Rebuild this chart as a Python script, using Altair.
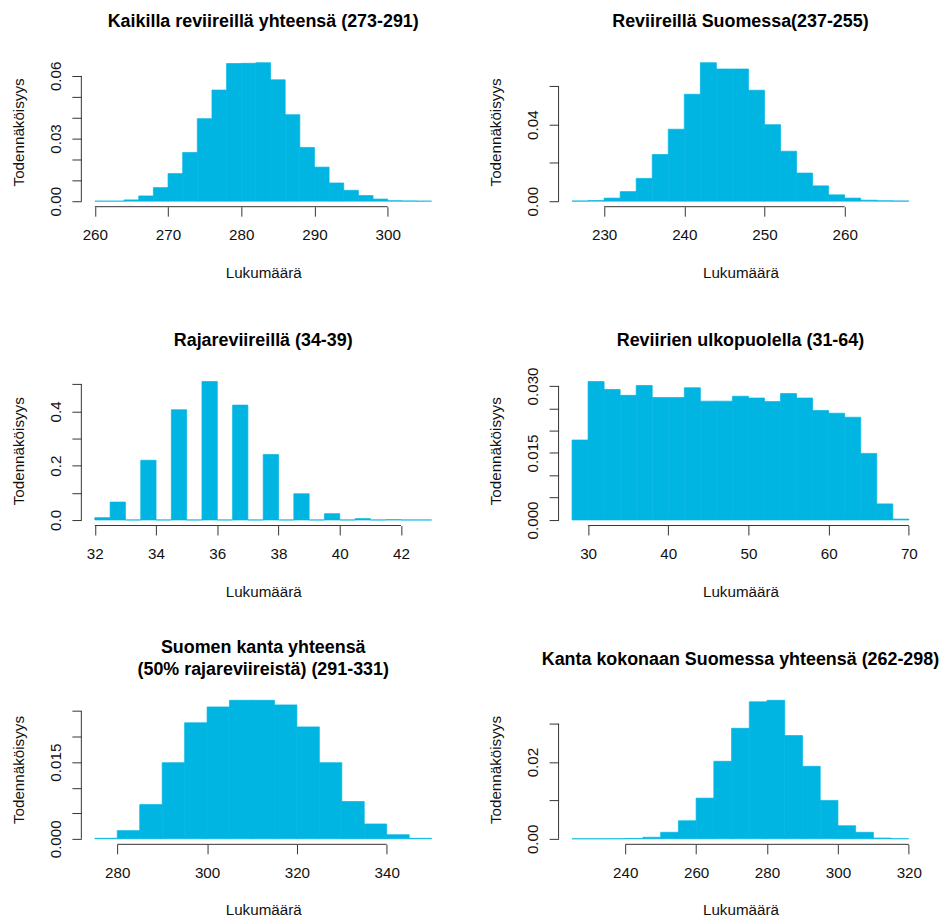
import altair as alt
import pandas as pd

FONT = "Liberation Sans"
FILL = "#00B5E2"
AXC = "#333333"
TXT = "#111111"
W, H = 366, 150.5

# ---------- data (density histograms) ----------
p1_title = "Kaikilla reviireillä yhteensä (273-291)"
p1_breaks = [260, 262, 264, 266, 268, 270, 272, 274, 276, 278, 280, 282, 284, 286, 288,
             290, 292, 294, 296, 298, 300, 302, 304, 306]
p1_dens = [0.0, 0.0, 0.0006, 0.0025, 0.0065, 0.0132, 0.0233, 0.0395, 0.0532, 0.0659, 0.0660,
           0.0663, 0.0581, 0.0414, 0.0257, 0.0163, 0.0087, 0.0052, 0.0027, 0.0010, 0.0002,
           0.0001, 0.0]
p1_xticks = [260, 270, 280, 290, 300]
p1_yticks = [0.0, 0.01, 0.02, 0.03, 0.04, 0.05, 0.06]
p1_ylab = [0.0, 0.03, 0.06]

p2_title = "Reviireillä Suomessa(237-255)"
p2_breaks = [226, 228, 230, 232, 234, 236, 238, 240, 242, 244, 246, 248, 250, 252, 254,
             256, 258, 260, 262, 264, 266, 268]
p2_dens = [0.0001, 0.0003, 0.0016, 0.0050, 0.0119, 0.0244, 0.0376, 0.0559, 0.0724, 0.0691,
           0.0691, 0.0580, 0.0400, 0.0261, 0.0147, 0.0080, 0.0033, 0.0016, 0.0005, 0.0002,
           0.0001]
p2_xticks = [230, 240, 250, 260]
p2_yticks = [0.0, 0.02, 0.04, 0.06]
p2_ylab = [0.0, 0.04]

p3_title = "Rajareviireillä (34-39)"
p3_breaks = [32, 32.5, 33, 33.5, 34, 34.5, 35, 35.5, 36, 36.5, 37, 37.5, 38, 38.5, 39,
             39.5, 40, 40.5, 41, 41.5, 42, 42.5, 43]
p3_dens = [0.0086, 0.066, 0.0, 0.220, 0.0, 0.406, 0.0, 0.510, 0.0, 0.423, 0.0, 0.241, 0.0,
           0.0966, 0.0, 0.0232, 0.0, 0.0050, 0.0, 0.0012, 0.0, 0.0]
p3_xticks = [32, 34, 36, 38, 40, 42]
p3_yticks = [0.0, 0.1, 0.2, 0.3, 0.4, 0.5]
p3_ylab = [0.0, 0.2, 0.4]

p4_title = "Reviirien ulkopuolella (31-64)"
p4_breaks = [28, 30, 32, 34, 36, 38, 40, 42, 44, 46, 48, 50, 52, 54, 56, 58, 60, 62, 64,
             66, 68, 70]
p4_dens = [0.0179, 0.0310, 0.0292, 0.0279, 0.0301, 0.0274, 0.0274, 0.0296, 0.0266, 0.0266,
           0.0277, 0.0273, 0.0265, 0.0283, 0.0273, 0.0245, 0.0239, 0.0230, 0.0149, 0.0036,
           0.0002]
p4_xticks = [30, 40, 50, 60, 70]
p4_yticks = [0.0, 0.005, 0.01, 0.015, 0.02, 0.025, 0.03]
p4_ylab = [0.0, 0.015, 0.03]

p5_title = ["Suomen kanta yhteensä", "(50% rajareviireistä) (291-331)"]
p5_breaks = [275, 280, 285, 290, 295, 300, 305, 310, 315, 320, 325, 330, 335, 340, 345, 350]
p5_dens = [0.0001, 0.0016, 0.0067, 0.0149, 0.0227, 0.0258, 0.0271, 0.0271, 0.0262, 0.0219,
           0.0149, 0.0073, 0.0029, 0.0008, 0.0001]
p5_xticks = [280, 300, 320, 340]
p5_yticks = [0.0, 0.005, 0.01, 0.015, 0.02, 0.025]
p5_ylab = [0.0, 0.015]

p6_title = "Kanta kokonaan Suomessa yhteensä (262-298)"
p6_breaks = [225, 230, 235, 240, 245, 250, 255, 260, 265, 270, 275, 280, 285, 290, 295,
             300, 305, 310, 315, 320]
p6_dens = [0.0, 0.0, 0.00002, 0.0001, 0.0004, 0.0017, 0.0047, 0.0106, 0.0202, 0.0288,
           0.0357, 0.0361, 0.0269, 0.0189, 0.0100, 0.0034, 0.0017, 0.0002, 0.00003]
p6_xticks = [240, 260, 280, 300, 320]
p6_yticks = [0.0, 0.01, 0.02, 0.03]
p6_ylab = [0.0, 0.02]

X_TITLE = "Lukumäärä"
Y_TITLE = "Todennäköisyys"


def panel(title, breaks, dens, xticks, yticks, ylab, yfmt,
          title_offset=12.2, xtitle_y=71, line_height=21.7):
    df = pd.DataFrame({"x0": breaks[:-1], "x1": breaks[1:], "d": dens})
    df["base"] = 0.0
    rng = breaks[-1] - breaks[0]
    xdom = [breaks[0] - 0.04 * rng, breaks[-1] + 0.04 * rng]
    ymax = max(dens)
    ydom = [-0.04 * ymax, 1.04 * ymax]
    xs = alt.Scale(domain=xdom, nice=False, zero=False)
    ys = alt.Scale(domain=ydom, nice=False, zero=False)

    cond = " || ".join(f"datum.value == {v}" for v in ylab)
    label_expr = f"({cond}) ? format(datum.value, '{yfmt}') : ''"

    xaxis = alt.Axis(
        values=xticks, title=X_TITLE, grid=False, domain=False,
        tickSize=9.5, tickColor=AXC, tickWidth=1,
        labelFont=FONT, labelFontSize=15.3, labelColor=TXT,
        labelBaseline="alphabetic", labelPadding=23.5,
        labelFlush=False, labelOverlap=False,
        titleFont=FONT, titleFontSize=15.3, titleFontWeight="normal", titleColor=TXT,
        titleX=W / 2, titleY=xtitle_y, titleAlign="center", titleBaseline="alphabetic",
    )
    yaxis = alt.Axis(
        values=yticks, labelExpr=label_expr, title=Y_TITLE, grid=False, domain=False,
        tickSize=9.5, tickColor=AXC, tickWidth=1,
        labelFont=FONT, labelFontSize=15.3, labelColor=TXT,
        labelAngle=270, labelAlign="center", labelBaseline="alphabetic",
        labelPadding=11.5, labelFlush=False, labelOverlap=False,
        titleFont=FONT, titleFontSize=15.3, titleFontWeight="normal", titleColor=TXT,
        titleAngle=270, titleX=-58, titleY=H / 2, titleAlign="center",
        titleBaseline="alphabetic",
    )

    bars = alt.Chart(df).mark_rect(fill=FILL, stroke=FILL, strokeWidth=0.7).encode(
        x=alt.X("x0:Q", scale=xs, axis=xaxis),
        x2="x1:Q",
        y=alt.Y("d:Q", scale=ys, axis=yaxis),
        y2="base:Q",
    )
    # R-style axis lines: they run only from the first to the last tick
    xline = alt.Chart(pd.DataFrame({"x0": [xticks[0]], "x1": [xticks[-1]]})).mark_rule(
        color=AXC, strokeWidth=1
    ).encode(
        x=alt.X("x0:Q", scale=xs, axis=xaxis), x2="x1:Q", y=alt.value(H)
    )
    yline = alt.Chart(pd.DataFrame({"d": [yticks[0]], "base": [yticks[-1]]})).mark_rule(
        color=AXC, strokeWidth=1
    ).encode(
        y=alt.Y("d:Q", scale=ys, axis=yaxis), y2="base:Q", x=alt.value(0)
    )
    t = alt.TitleParams(
        text=title, font=FONT, fontSize=18, fontWeight="bold", color="black",
        anchor="middle", frame="group", baseline="alphabetic",
        offset=title_offset, lineHeight=line_height,
    )
    return alt.layer(bars, xline, yline).properties(width=W, height=H, title=t)


c1 = panel(p1_title, p1_breaks, p1_dens, p1_xticks, p1_yticks, p1_ylab, ".2f")
c2 = panel(p2_title, p2_breaks, p2_dens, p2_xticks, p2_yticks, p2_ylab, ".2f")
c3 = panel(p3_title, p3_breaks, p3_dens, p3_xticks, p3_yticks, p3_ylab, ".1f")
c4 = panel(p4_title, p4_breaks, p4_dens, p4_xticks, p4_yticks, p4_ylab, ".3f",
           title_offset=3.1)
c5 = panel(p5_title, p5_breaks, p5_dens, p5_xticks, p5_yticks, p5_ylab, ".3f",
           title_offset=2.2)
c6 = panel(p6_title, p6_breaks, p6_dens, p6_xticks, p6_yticks, p6_ylab, ".2f")

chart = alt.concat(
    c1, c2, c3, c4, c5, c6, columns=2,
    spacing={"row": 169.8, "column": 114.2}, bounds="flush",
).properties(
    padding={"left": 2.8, "top": 1.6, "right": 0, "bottom": 0},
    background="white",
).configure_view(stroke="transparent")

chart.save("out.html", embed_options={"renderer": "svg", "actions": False})
